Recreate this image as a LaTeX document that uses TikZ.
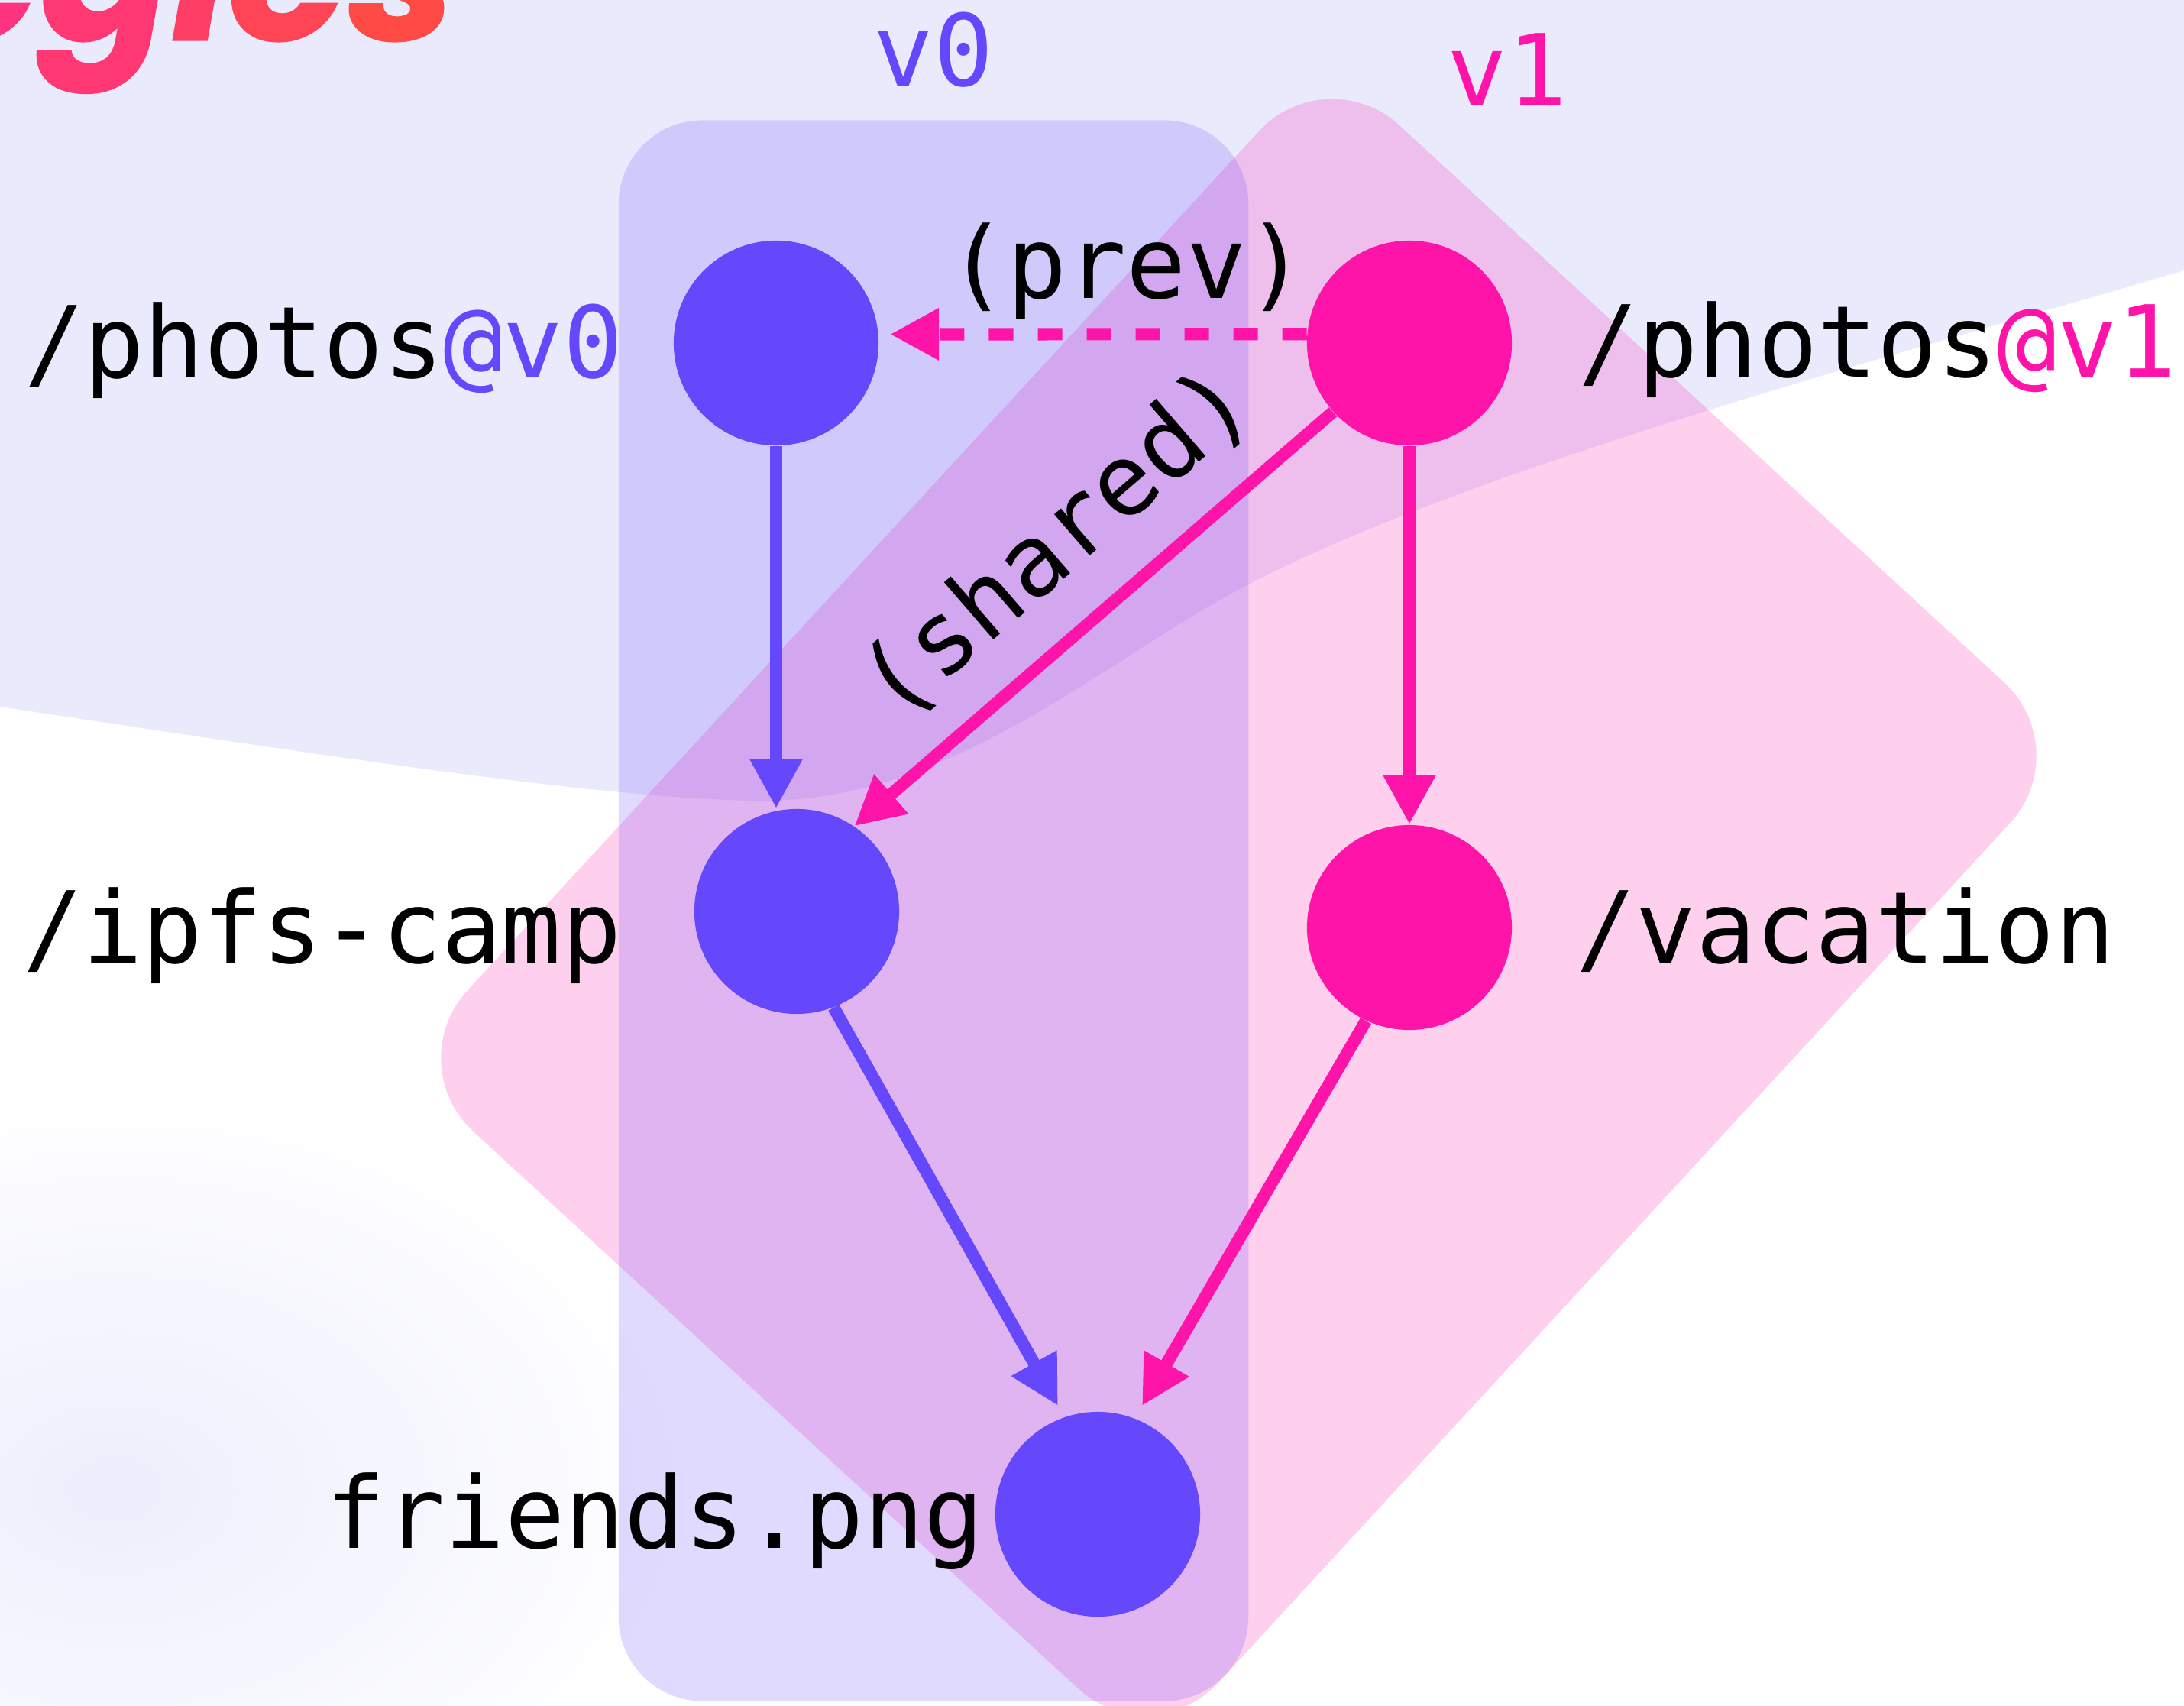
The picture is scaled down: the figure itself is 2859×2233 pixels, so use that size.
\documentclass[tikz,border=0pt]{standalone}
\usepackage{fontspec}
\usetikzlibrary{arrows.meta,calc}
\newfontfamily\monof{DejaVu Sans Mono}
\newfontfamily\titlef{Poppins}[BoldItalicFeatures={FakeBold=1.2}]
\definecolor{bglav}{HTML}{EAEAFD}
\definecolor{blobc}{HTML}{ECEEFC}
\definecolor{vblue}{HTML}{6548FC}
\definecolor{vpink}{HTML}{FF14AA}
\definecolor{tA}{HTML}{FF3380}
\definecolor{tB}{HTML}{FF3874}
\definecolor{tC}{HTML}{FF3E66}
\definecolor{tD}{HTML}{FF4456}
\definecolor{tE}{HTML}{FF4A46}
\begin{document}
\begin{tikzpicture}[x=0.01cm,y=-0.01cm,
  dot/.style={circle,inner sep=0pt,minimum size=2.68cm,draw=none},
  bdot/.style={dot,fill=vblue},
  pdot/.style={dot,fill=vpink},
  lab/.style={inner sep=0pt,anchor=base,font=\monof\fontsize{37}{44}\selectfont},
  tipA/.style={-{Triangle[length=6.4mm,width=6.4mm]}},
  bedge/.style={draw=vblue,line width=4.6pt,tipA},
  pedge/.style={draw=vpink,line width=4.6pt,tipA},
  cluster/.style={rectangle,inner sep=0pt,draw=none,fill opacity=0.2},
]
\useasboundingbox (0,0) rectangle (2859,2233);
\clip (0,0) rectangle (2859,2233);
% background
\fill[white] (0,0) rectangle (2859,2233);
\shade[inner color=blobc, outer color=white] (150,1950) ellipse [x radius=750, y radius=520];
\fill[bglav] (0,0) -- (2859,0) -- (2859,354)
  .. controls (2500,460) and (1934,609) .. (1634,765)
  .. controls (1450,860) and (1250,1048) .. (1000,1048)
  .. controls (800,1048) and (400,985) .. (0,925) -- cycle;
% title fragment
\node[inner sep=0pt,anchor=base east,font=\titlef\bfseries\itshape\fontsize{72}{80}\selectfont] (title) at (597,52)
  {\textcolor{tA}{e}\textcolor{tB}{g}\textcolor{tC}{i}\textcolor{tD}{e}\textcolor{tE}{s}};
% clusters
\node[cluster,fill=vpink,rounded corners=1.3cm,minimum width=13.36cm,minimum height=17.89cm,rotate=-42.65] (c1) at (1621.5,1187) {};
\node[cluster,fill=vblue,rounded corners=1.1cm,minimum width=8.24cm,minimum height=20.68cm] (c0) at (1222,1192) {};
% nodes
\node[bdot] (v0) at (1016,449) {};
\node[pdot] (v1) at (1845,449) {};
\node[bdot] (ipfs) at (1043,1193) {};
\node[pdot] (vac) at (1845,1214) {};
\node[bdot] (fr) at (1437,1982) {};
% edges
\coordinate (tb) at (1385,1840);
\coordinate (tp) at (1495,1840);
\coordinate (tprev) at (1165,437.5);
\draw[bedge] (v0.south) -- (v0.south |- ipfs.north);
\draw[pedge] (v1.south) -- (vac.north);
\draw[pedge] (v1.-138.2) -- (ipfs.56.8);
\draw[bedge] (ipfs.-69.7) -- (tb);
\draw[pedge] (vac.-115.3) -- (tp);
\draw[pedge,dash pattern=on 0.32cm off 0.32cm] (v1.175.1) -- (tprev);
% labels
\node[lab] (l0) at (424,494) {/photos\textcolor{vblue}{@v0}};
\node[lab] (l1) at (2458,493) {/photos\textcolor{vpink}{@v1}};
\node[lab] (l2) at (422,1260) {/ipfs-camp};
\node[lab] (l3) at (2416,1260) {/vacation};
\node[lab] (l4) at (857,2026) {friends.png};
\node[lab,text=vblue] (cl0) at (1222,112) {v0};
\node[lab,text=vpink] (cl1) at (1973,138) {v1};
\node[lab] (lp) at (1475,390.6) {(prev)};
\node[lab,anchor=center,rotate=40.8] (ls) at (1383,712) {(shared)};
\end{tikzpicture}
\end{document}
